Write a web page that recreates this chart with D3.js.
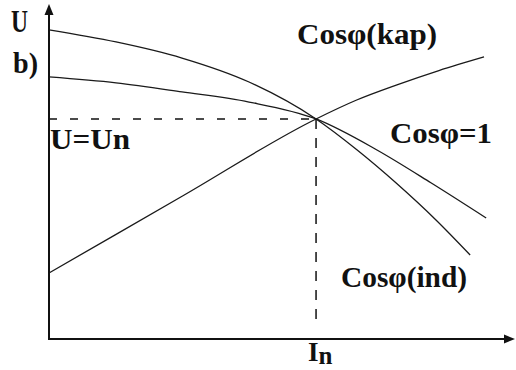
<!DOCTYPE html>
<html>
<head>
    <script src="https://d3js.org/d3.v7.min.js"></script>
    <style>
        body { margin: 0; background: #fff; }
        text { font-family: "Liberation Serif", "Times New Roman", serif; font-weight: bold; fill: #111; }
    </style>
</head>
<body>
    <svg width="516" height="370" id="mainSvg"></svg>
    <script>
        // current in units of In, voltage in units of Un
        const currentInd = [0, 0.251, 0.498, 0.749, 1, 1.154, 1.30, 1.45, 1.577];
        const voltInd = [1.405, 1.35, 1.277, 1.168, 1.0, 0.859, 0.709, 0.54, 0.382];

        const currentOne = [0, 0.251, 0.498, 0.749, 1, 1.228, 1.43, 1.637];
        const voltOne = [1.191, 1.164, 1.123, 1.077, 1.0, 0.859, 0.71, 0.55];

        const currentKap = [0, 0.5, 1, 1.15, 1.303, 1.46, 1.629];
        const voltKap = [0.30, 0.65, 1.0, 1.085, 1.155, 1.22, 1.282];

        const svg = d3.select('#mainSvg');

        const x = d3.scaleLinear().domain([0, 1.745]).range([49, 515]);
        const y = d3.scaleLinear().domain([0, 1.518]).range([339, 5]);

        const line = d3.line()
            .x(d => x(d[0]))
            .y(d => y(d[1]))
            .curve(d3.curveMonotoneX);

        const series = [
            { name: 'ind', pts: d3.zip(currentInd, voltInd) },
            { name: 'one', pts: d3.zip(currentOne, voltOne) },
            { name: 'kap', pts: d3.zip(currentKap, voltKap) }
        ];

        svg.selectAll('.curve').data(series).join('path')
            .attr('class', 'curve')
            .attr('d', d => line(d.pts))
            .attr('fill', 'none')
            .attr('stroke', '#1a1a1a')
            .attr('stroke-width', 1.3);

        // dashed guides to the rated point
        svg.append('line')
            .attr('x1', x(0)).attr('y1', y(1))
            .attr('x2', x(1)).attr('y2', y(1))
            .attr('stroke', '#111').attr('stroke-width', 1.5)
            .attr('stroke-dasharray', '8,13');
        svg.append('line')
            .attr('x1', x(1)).attr('y1', y(1))
            .attr('x2', x(1)).attr('y2', 327)
            .attr('stroke', '#111').attr('stroke-width', 1.5)
            .attr('stroke-dasharray', '10,9');

        // axes with arrows
        svg.append('line')
            .attr('x1', x(0)).attr('y1', y(0))
            .attr('x2', x(0)).attr('y2', 12)
            .attr('stroke', '#111').attr('stroke-width', 2);
        svg.append('line')
            .attr('x1', x(0) - 1).attr('y1', y(0))
            .attr('x2', 506).attr('y2', y(0))
            .attr('stroke', '#111').attr('stroke-width', 2);
        svg.append('path')
            .attr('d', `M${x(0)},4 L${x(0) - 4.5},15 L${x(0) + 4.5},15 Z`)
            .attr('fill', '#111');
        svg.append('path')
            .attr('d', `M515,${y(0)} L504,${y(0) - 4.5} L504,${y(0) + 4.5} Z`)
            .attr('fill', '#111');

        // labels
        const labels = [
            { t: 'U', x: 11, y: 32, size: 31, w: 17 },
            { t: 'b)', x: 13, y: 73, size: 30, w: 25 },
            { t: 'U=Un', x: 50, y: 149, size: 29, w: 80 },
            { t: 'Cosφ(kap)', x: 297, y: 44, size: 30, w: 140 },
            { t: 'Cosφ=1', x: 390, y: 143, size: 30, w: 102 },
            { t: 'Cosφ(ind)', x: 341, y: 287, size: 30, w: 126 }
        ];
        svg.selectAll('.lbl').data(labels).join('text')
            .attr('class', 'lbl')
            .attr('x', d => d.x).attr('y', d => d.y)
            .attr('font-size', d => d.size)
            .attr('textLength', d => d.w)
            .attr('lengthAdjust', 'spacingAndGlyphs')
            .text(d => d.t);

        const iN = svg.append('text').attr('x', 308).attr('y', 361).attr('font-size', 27);
        iN.append('tspan').text('I');
        iN.append('tspan').attr('font-size', 25).attr('dy', 3).text('n');
    </script>
</body>
</html>
